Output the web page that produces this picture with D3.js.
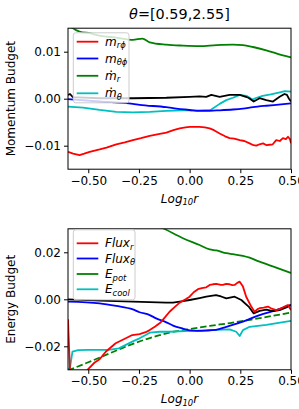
<!DOCTYPE html>
<html><head><meta charset="utf-8">
<script src="https://cdn.jsdelivr.net/npm/d3@7"></script>
<style>body{margin:0;background:#fff}svg{display:block}text{font-family:"DejaVu Sans",sans-serif}</style>
</head><body>
<script>
// ---------- data ----------
const xDomain = [-0.6, 0.5];
const xTicks = [-0.5, -0.25, 0, 0.25, 0.5];
const xTickLabels = ["\u22120.50", "\u22120.25", "0.00", "0.25", "0.50"];
const topYTicks = [-0.01, 0, 0.01];
const topYTickLabels = ["\u22120.01", "0.00", "0.01"];
const botYTicks = [-0.02, 0, 0.02];
const botYTickLabels = ["\u22120.02", "0.00", "0.02"];

// Momentum budget
const mrphiX = [-0.6,-0.575,-0.543,-0.52,-0.493,-0.444,-0.41,-0.362,-0.32,-0.28,-0.24,-0.197,-0.16,-0.115,-0.08,-0.049,-0.02,0,0.025,0.049,0.075,0.099,0.12,0.148,0.175,0.197,0.22,0.247,0.27,0.296,0.315,0.329,0.345,0.362,0.38,0.394,0.41,0.427,0.445,0.46,0.475,0.485,0.495,0.5];
const mrphiY = [-0.0113,-0.0117,-0.0120,-0.0117,-0.0113,-0.0108,-0.0104,-0.0097,-0.0093,-0.0088,-0.0084,-0.0079,-0.0076,-0.0072,-0.0067,-0.0063,-0.0061,-0.0060,-0.0060,-0.0060,-0.0061,-0.0063,-0.0067,-0.0074,-0.0080,-0.0084,-0.0085,-0.0088,-0.0090,-0.0095,-0.0099,-0.0100,-0.0097,-0.0095,-0.0099,-0.0098,-0.0097,-0.0088,-0.0090,-0.0084,-0.0086,-0.0081,-0.0086,-0.0095];
const mthphiX = [-0.6,-0.444,-0.28,-0.247,-0.115,-0.082,0,0.049,0.082,0.132,0.214,0.263,0.3125,0.378,0.427,0.5];
const mthphiY = [-0.0001,-0.0006,-0.0011,-0.0013,-0.0018,-0.0020,-0.0024,-0.0026,-0.0026,-0.0025,-0.0023,-0.0021,-0.0018,-0.0015,-0.0013,-0.0010];
const mdotrX = [-0.6,-0.58,-0.56,-0.543,-0.488,-0.444,-0.362,-0.28,-0.233,-0.197,-0.115,-0.033,0.049,0.132,0.214,0.263,0.3125,0.378,0.46,0.5];
const mdotrY = [0.0153,0.0151,0.0146,0.0143,0.0139,0.0134,0.0130,0.0125,0.0128,0.0120,0.0115,0.0113,0.0112,0.0114,0.0115,0.0114,0.0110,0.0103,0.0092,0.0088];
const mdotthX = [-0.6,-0.526,-0.444,-0.362,-0.28,-0.197,-0.115,-0.033,0.049,0.099,0.107,0.148,0.181,0.214,0.247,0.28,0.31,0.33,0.36,0.40,0.44,0.47,0.5];
const mdotthY = [-0.0017,-0.0019,-0.0024,-0.0028,-0.0029,-0.0028,-0.0026,-0.0025,-0.0025,-0.0024,-0.0023,-0.0011,-0.0003,0.0002,0.0008,0.0006,-0.0002,0.0002,0.0006,0.0009,0.0013,0.0016,0.0015];
const mtotX = [-0.6,-0.59,-0.575,-0.55,-0.444,-0.28,-0.115,0,0.049,0.082,0.107,0.148,0.197,0.247,0.27,0.29,0.316,0.345,0.378,0.411,0.444,0.468,0.48,0.49,0.5];
const mtotY = [0.0008,0.0010,0.0003,0.0003,0.0001,0.0001,0.0002,0.0004,0.0005,0.0004,0.0008,0.0004,0.0008,0.0008,0.0005,0.0002,-0.0006,0.0001,-0.0003,-0.0006,0.0004,0.0010,0.0008,0.0000,-0.0006];

// Energy budget
const fluxrX = [-0.6,-0.595,-0.588,-0.55,-0.504,-0.47,-0.444,-0.414,-0.365,-0.32,-0.283,-0.247,-0.217,-0.197,-0.17,-0.145,-0.12,-0.099,-0.07,-0.049,-0.02,0,0.02,0.041,0.06,0.082,0.099,0.115,0.131,0.15,0.164,0.18,0.197,0.21,0.222,0.235,0.247,0.263,0.279,0.304,0.32,0.335,0.345,0.365,0.386,0.405,0.427,0.45,0.468,0.485,0.5];
const fluxrY = [-0.0085,-0.020,-0.035,-0.037,-0.030,-0.027,-0.0255,-0.0223,-0.0187,-0.0168,-0.0152,-0.0148,-0.0140,-0.0131,-0.0116,-0.0100,-0.0075,-0.0053,-0.0030,-0.0014,0.0000,0.0011,0.0030,0.0043,0.0048,0.0051,0.0061,0.0064,0.0066,0.0062,0.0061,0.0066,0.0064,0.0060,0.0061,0.0070,0.0075,0.0054,0.0011,-0.0031,-0.0053,-0.0042,-0.0038,-0.0035,-0.0031,-0.0040,-0.0046,-0.0040,-0.0031,-0.0024,-0.0046];
const fluxthX = [-0.6,-0.444,-0.362,-0.28,-0.247,-0.197,-0.165,-0.115,-0.082,-0.033,0,0.033,0.082,0.13,0.181,0.263,0.345,0.427,0.5];
const fluxthY = [-0.0010,-0.0017,-0.0028,-0.0043,-0.0055,-0.0067,-0.0081,-0.0098,-0.0112,-0.0125,-0.0132,-0.0134,-0.0133,-0.0130,-0.0117,-0.0095,-0.0067,-0.0046,-0.0024];
const epotX = [-0.6,-0.4,-0.2,-0.123,-0.033,0.049,0.099,0.132,0.181,0.214,0.263,0.296,0.345,0.427,0.5];
const epotY = [0.050,0.041,0.033,0.0299,0.0260,0.0231,0.0212,0.0208,0.0196,0.0192,0.0185,0.0177,0.0160,0.0135,0.0112];
const ecoolX = [-0.6,-0.59,-0.578,-0.55,-0.5,-0.4,-0.349,-0.283,-0.247,-0.217,-0.197,-0.148,-0.1,0,0.1,0.197,0.23,0.247,0.263,0.296,0.378,0.5];
const ecoolY = [-0.030,-0.029,-0.0223,-0.0216,-0.0215,-0.0215,-0.0209,-0.0180,-0.0166,-0.0152,-0.0142,-0.0138,-0.0138,-0.0134,-0.0131,-0.0128,-0.0138,-0.0156,-0.0131,-0.0117,-0.0109,-0.0092];
const etotX = [-0.6,-0.444,-0.28,-0.115,-0.082,-0.033,0,0.049,0.082,0.13,0.155,0.181,0.222,0.255,0.291,0.316,0.345,0.378,0.411,0.444,0.477,0.5];
const etotY = [0.0,-0.0006,-0.0010,-0.0014,-0.0014,-0.0008,-0.0003,0.0005,0.0011,0.0018,0.0012,0.0004,0.0011,-0.0003,-0.0031,-0.0060,-0.0049,-0.0044,-0.0050,-0.0046,-0.0035,-0.0024];
const fitX = [-0.6,-0.5,-0.4,-0.3,-0.2,-0.1,0,0.1,0.2,0.3,0.4,0.5];
const fitY = [-0.0303,-0.0268,-0.0232,-0.0196,-0.0166,-0.0142,-0.0127,-0.0113,-0.0101,-0.0087,-0.0072,-0.0056];

// ---------- drawing ----------
const W = 299, H = 409;
const svg = d3.select("body").append("svg").attr("width", W).attr("height", H);
const x = d3.scaleLinear().domain(xDomain).range([68, 291]);

svg.append("text").attr("x", 179.5).attr("y", 19).attr("text-anchor", "middle")
  .style("font-size", "14.4px")
  .call(t => { t.append("tspan").style("font-style", "italic").text("\u03B8"); t.append("tspan").text("=[0.59,2.55]"); });

function panel(id, y0, y1, yDomain, yTicks, yTickLabels, ylabel, series, legend, leg) {
  const y = d3.scaleLinear().domain(yDomain).range([y1, y0]);
  const g = svg.append("g");
  g.append("clipPath").attr("id", id).append("rect")
    .attr("x", x.range()[0]).attr("y", y0).attr("width", x.range()[1] - x.range()[0]).attr("height", y1 - y0);
  const plot = g.append("g").attr("clip-path", `url(#${id})`);
  series.forEach(s => {
    const line = d3.line().x(d => x(d[0])).y(d => y(d[1])).curve(s.smooth ? d3.curveMonotoneX : d3.curveLinear);
    plot.append("path").datum(d3.zip(s.xs, s.ys)).attr("d", line)
      .attr("fill", "none").attr("stroke", s.color).attr("stroke-width", 1.8)
      .attr("stroke-dasharray", s.dash || null).attr("stroke-linejoin", "round");
  });
  // axes
  const xa = g.append("g").attr("transform", `translate(0,${y1})`)
    .call(d3.axisBottom(x).tickValues(xTicks).tickFormat((d, i) => xTickLabels[i]).tickSizeOuter(0).tickSize(4).tickPadding(3));
  const ya = g.append("g").attr("transform", `translate(${x.range()[0]},0)`)
    .call(d3.axisLeft(y).tickValues(yTicks).tickFormat((d, i) => yTickLabels[i]).tickSizeOuter(0).tickSize(4).tickPadding(3));
  [xa, ya].forEach(a => { a.select(".domain").remove(); a.selectAll("text").style("font-size", "12px").attr("fill", "#000").style("font-family", "DejaVu Sans"); a.selectAll("line").attr("stroke", "#000"); });
  g.append("rect").attr("x", x.range()[0]).attr("y", y0).attr("width", x.range()[1] - x.range()[0]).attr("height", y1 - y0)
    .attr("fill", "none").attr("stroke", "#000").attr("stroke-width", 1);
  // labels
  g.append("text").attr("x", 179.5).attr("y", y1 + 33.5).attr("text-anchor", "middle").style("font-size", "12px")
    .call(t => {
      t.append("tspan").style("font-style", "italic").text("Log");
      t.append("tspan").style("font-style", "italic").style("font-size", "8.4px").attr("dy", 2.5).text("10");
      t.append("tspan").style("font-style", "italic").attr("dy", -2.5).text("r");
    });
  g.append("text").attr("transform", `translate(14.5,${(y0 + y1) / 2}) rotate(-90)`).attr("text-anchor", "middle")
    .style("font-size", "12px").text(ylabel);
  // legend
  const lg = g.append("g");
  lg.append("rect").attr("x", 73.3).attr("y", leg.top).attr("width", leg.w).attr("height", leg.h)
    .attr("rx", 2.5).attr("fill", "#fff").attr("fill-opacity", 0.8).attr("stroke", "#cccccc").attr("stroke-width", 1);
  legend.forEach((e, i) => {
    const yy = leg.rows[i];
    lg.append("line").attr("x1", 76.7).attr("x2", 98.3).attr("y1", yy).attr("y2", yy)
      .attr("stroke", e.color).attr("stroke-width", 1.8);
    const t = lg.append("text").attr("x", 105).attr("y", yy + 4).style("font-size", "12px").style("font-style", "italic");
    t.append("tspan").text(e.main);
    t.append("tspan").style("font-size", "8.4px").attr("dy", 2.5).text(e.sub);
    if (e.dot) {
      lg.append("text").attr("x", 111.2).attr("y", yy - 0.3).attr("text-anchor", "middle")
        .style("font-size", "12px").text("\u00B7");
    }
  });
  return y;
}

panel("clipTop", 28.2, 169.2, [-0.015, 0.015], topYTicks, topYTickLabels, "Momentum Budget", [
  { xs: mdotrX, ys: mdotrY, color: "#008000", smooth: true },
  { xs: mdotthX, ys: mdotthY, color: "#00bfbf" },
  { xs: mthphiX, ys: mthphiY, color: "#0000ff", smooth: true },
  { xs: mrphiX, ys: mrphiY, color: "#ff0000" },
  { xs: mtotX, ys: mtotY, color: "#000000" }
], [
  { main: "m", sub: "r\u03D5", color: "#ff0000" },
  { main: "m", sub: "\u03B8\u03D5", color: "#0000ff" },
  { main: "m", sub: "r", color: "#008000", dot: true },
  { main: "m", sub: "\u03B8", color: "#00bfbf", dot: true }
], { top: 32.8, w: 55.7, h: 70, rows: [41.7, 58.5, 75.8, 93.3] });

panel("clipBot", 228.8, 369.8, [-0.03, 0.03], botYTicks, botYTickLabels, "Energy Budget", [
  { xs: epotX, ys: epotY, color: "#008000", smooth: true },
  { xs: fitX, ys: fitY, color: "#008000", dash: "6.5,2.8", smooth: true },
  { xs: ecoolX, ys: ecoolY, color: "#00bfbf" },
  { xs: fluxthX, ys: fluxthY, color: "#0000ff", smooth: true },
  { xs: etotX, ys: etotY, color: "#000000" },
  { xs: fluxrX, ys: fluxrY, color: "#ff0000" }
], [
  { main: "Flux", sub: "r", color: "#ff0000" },
  { main: "Flux", sub: "\u03B8", color: "#0000ff" },
  { main: "E", sub: "pot", color: "#008000" },
  { main: "E", sub: "cool", color: "#00bfbf" }
], { top: 229.8, w: 61.7, h: 70, rows: [243.3, 258.5, 274, 289.3] });
</script>
</body></html>
